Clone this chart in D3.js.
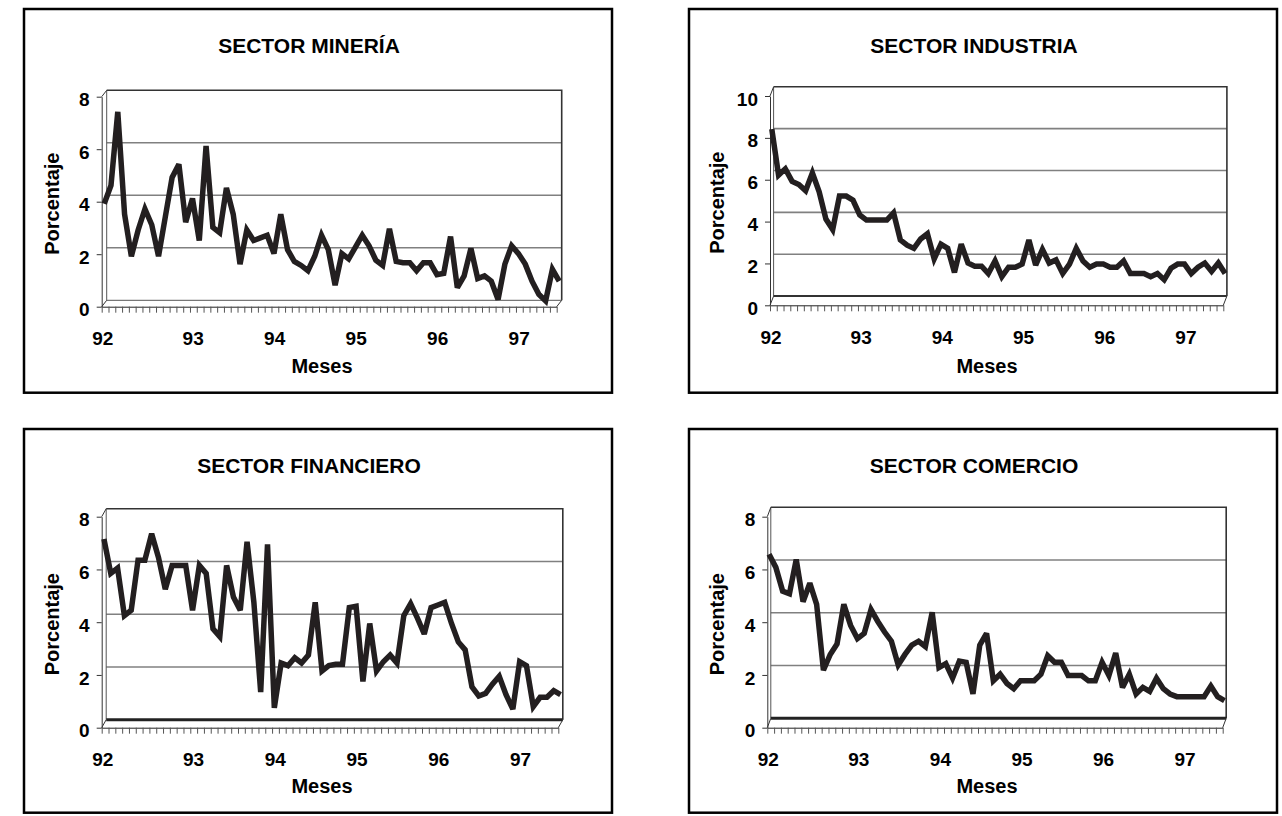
<!DOCTYPE html>
<html>
<head>
<meta charset="utf-8">
<script src="https://cdn.jsdelivr.net/npm/d3@7/dist/d3.min.js"></script>
<style>
body { margin: 0; background: #fff; }
text { font-family: "Liberation Sans", Arial, Helvetica, sans-serif; font-weight: bold; fill: #000; }
</style>
</head>
<body>
<div id="canvas"></div>
<script>
// categories: one per month, Jan 92 .. Aug 97
var years = ["92", "93", "94", "95", "96", "97"];
var monthsInYear = [12, 12, 12, 12, 12, 8];
var months = [];
years.forEach(function (y, k) {
    for (var m = 1; m <= monthsInYear[k]; m++) months.push(y + "-" + (m < 10 ? "0" + m : m));
});

var titles = ["SECTOR MINERÍA", "SECTOR INDUSTRIA", "SECTOR FINANCIERO", "SECTOR COMERCIO"];
var yTitle = "Porcentaje";
var xTitle = "Meses";

var ticks8 = [0, 2, 4, 6, 8];
var ticks10 = [0, 2, 4, 6, 8, 10];

var mineria = [3.8, 4.5, 7.3, 3.4, 1.8, 2.8, 3.6, 3.0, 1.8, 3.3, 4.8, 5.3,
    3.1, 4.0, 2.4, 6.0, 2.9, 2.7, 4.4, 3.4, 1.5, 2.8, 2.4, 2.5,
    2.6, 1.9, 3.4, 2.05, 1.6, 1.45, 1.25, 1.8, 2.6, 2.05, 0.7, 1.9,
    1.7, 2.15, 2.6, 2.2, 1.65, 1.45, 2.85, 1.6, 1.55, 1.55, 1.25, 1.55,
    1.55, 1.1, 1.15, 2.55, 0.6, 1.05, 2.1, 0.95, 1.05, 0.85, 0.15, 1.5,
    2.2, 1.9, 1.5, 0.85, 0.35, 0.1, 1.3, 0.85];

var industria = [8.2, 6.0, 6.3, 5.7, 5.55, 5.25, 6.1, 5.2, 3.9, 3.4, 5.0, 5.0,
    4.8, 4.1, 3.85, 3.85, 3.85, 3.85, 4.2, 2.9, 2.65, 2.5, 2.95, 3.2,
    2.0, 2.7, 2.5, 1.35, 2.7, 1.8, 1.65, 1.65, 1.3, 1.9, 1.15, 1.6,
    1.6, 1.75, 2.9, 1.7, 2.45, 1.8, 1.95, 1.3, 1.75, 2.5, 1.9, 1.6,
    1.75, 1.75, 1.6, 1.6, 1.9, 1.3, 1.3, 1.3, 1.15, 1.3, 1.0, 1.55,
    1.75, 1.75, 1.3, 1.6, 1.8, 1.4, 1.8, 1.3];

var financiero = [7.0, 5.7, 5.9, 4.1, 4.3, 6.2, 6.2, 7.2, 6.3, 5.1, 6.0, 6.0,
    6.0, 4.3, 6.0, 5.7, 3.6, 3.3, 6.0, 4.8, 4.3, 6.9, 4.6, 1.2,
    6.8, 0.6, 2.3, 2.2, 2.5, 2.3, 2.6, 4.6, 2.0, 2.2, 2.25, 2.25,
    4.4, 4.45, 1.6, 3.8, 2.0, 2.35, 2.6, 2.3, 4.1, 4.55, 4.0, 3.4,
    4.4, 4.5, 4.6, 3.8, 3.1, 2.8, 1.4, 1.05, 1.15, 1.5, 1.8, 1.1,
    0.55, 2.35, 2.2, 0.65, 1.0, 1.0, 1.25, 1.1];

var comercio = [6.4, 5.9, 5.0, 4.9, 6.2, 4.6, 5.3, 4.5, 2.0, 2.6, 3.0, 4.5,
    3.7, 3.2, 3.4, 4.3, 3.85, 3.45, 3.1, 2.2, 2.6, 2.95, 3.1, 2.9,
    4.2, 2.1, 2.25, 1.7, 2.35, 2.3, 1.1, 2.95, 3.4, 1.6, 1.85, 1.5,
    1.3, 1.6, 1.6, 1.6, 1.85, 2.55, 2.3, 2.3, 1.8, 1.8, 1.8, 1.6,
    1.6, 2.3, 1.8, 2.65, 1.35, 1.85, 1.1, 1.35, 1.2, 1.7, 1.3, 1.1,
    1.0, 1.0, 1.0, 1.0, 1.0, 1.4, 1.0, 0.85];

var width = 1282, height = 816;
var frameW = 588, frameH = 383.7;

// layout of each box: frame corner, front origin of plot, plot size, 3d depth offset
var panels = [
    {title: titles[0], values: mineria, ticks: ticks8, fx: 24, fy: 9,
        x0: 101.7, y0: 306.7, w: 455, h: 210, dx: 5, dy: -6.4, floorC: "#777", floorW: 1.3},
    {title: titles[1], values: industria, ticks: ticks10, fx: 689, fy: 9,
        x0: 770, y0: 305.3, w: 453.3, h: 209.3, dx: 3.6, dy: -9.2, floorC: "#333", floorW: 2},
    {title: titles[2], values: financiero, ticks: ticks8, fx: 24, fy: 429,
        x0: 101.7, y0: 727.7, w: 456.6, h: 211, dx: 4.5, dy: -8, floorC: "#222", floorW: 3},
    {title: titles[3], values: comercio, ticks: ticks8, fx: 689, fy: 429,
        x0: 767.3, y0: 727.7, w: 455.4, h: 211, dx: 3.5, dy: -9.4, floorC: "#222", floorW: 3}
];

var svg = d3.select("#canvas").append("svg")
    .attr("width", width)
    .attr("height", height);

svg.append("rect").attr("width", width).attr("height", height).attr("fill", "#fff");

function drawPanel(p) {
    var g = svg.append("g");

    g.append("rect")
        .attr("x", p.fx).attr("y", p.fy)
        .attr("width", frameW).attr("height", frameH)
        .attr("fill", "#fff")
        .attr("stroke", "#000")
        .attr("stroke-width", 2.5);

    var ymax = d3.max(p.ticks);
    var y = d3.scaleLinear().domain([0, ymax]).range([p.y0, p.y0 - p.h]);
    var x = d3.scalePoint().domain(months).range([p.x0, p.x0 + p.w]);

    var bx = p.x0 + p.dx, by = p.y0 + p.dy;

    // back wall gridlines
    g.selectAll(".grid")
        .data(p.ticks.filter(function (t) { return t > 0 && t < ymax; }))
        .enter().append("line")
        .attr("x1", bx).attr("x2", bx + p.w)
        .attr("y1", function (d) { return y(d) + p.dy; })
        .attr("y2", function (d) { return y(d) + p.dy; })
        .attr("stroke", "#808080")
        .attr("stroke-width", 1.6);

    // back wall top and right edge
    g.append("path")
        .attr("d", "M" + bx + "," + (by - p.h) + "H" + (bx + p.w) + "V" + by)
        .attr("fill", "none")
        .attr("stroke", "#333")
        .attr("stroke-width", 1.6);

    // back wall left edge
    g.append("line")
        .attr("x1", bx).attr("y1", by - p.h).attr("x2", bx).attr("y2", by)
        .attr("stroke", "#555").attr("stroke-width", 1);

    // floor back edge
    g.append("line")
        .attr("x1", bx).attr("y1", by).attr("x2", bx + p.w).attr("y2", by)
        .attr("stroke", p.floorC).attr("stroke-width", p.floorW);

    // depth edges: top-left, bottom-left, bottom-right
    [[p.x0, p.y0 - p.h], [p.x0, p.y0], [p.x0 + p.w, p.y0]].forEach(function (c) {
        g.append("line")
            .attr("x1", c[0]).attr("y1", c[1])
            .attr("x2", c[0] + p.dx).attr("y2", c[1] + p.dy)
            .attr("stroke", "#333").attr("stroke-width", 1);
    });

    // y axis (front)
    var yAxis = g.append("g")
        .attr("transform", "translate(" + p.x0 + ",0)")
        .call(d3.axisLeft(y).tickValues(p.ticks).tickSize(5).tickSizeOuter(0).tickPadding(7).tickFormat(d3.format("d")));
    yAxis.select(".domain").attr("stroke", "#333");
    yAxis.selectAll(".tick line").attr("stroke", "#333");
    yAxis.selectAll(".tick text")
        .attr("y", 3)
        .style("font-family", "'Liberation Sans', Arial, sans-serif")
        .style("font-weight", "bold")
        .style("font-size", "19px")
        .attr("fill", "#000");

    // x axis (front), one tick per month
    var xAxis = g.append("g")
        .attr("transform", "translate(0," + p.y0 + ")")
        .call(d3.axisBottom(x).tickValues(months).tickSize(6).tickSizeOuter(0).tickFormat(""));
    xAxis.select(".domain").attr("stroke", "#222");
    xAxis.selectAll(".tick line").attr("stroke", "#555");

    // year labels
    g.selectAll(".yr")
        .data(years)
        .enter().append("text")
        .attr("x", function (d, k) { return x(d + "-01") + (k === 0 ? 1 : 10); })
        .attr("y", p.y0 + 38.3)
        .attr("text-anchor", "middle")
        .style("font-size", "19px")
        .text(function (d) { return d; });

    // series ribbon
    var line = d3.line()
        .x(function (d, i) { return x(months[i]) + p.dx / 2; })
        .y(function (d) { return y(d) + p.dy / 2; });

    g.append("path")
        .datum(p.values)
        .attr("d", line)
        .attr("fill", "none")
        .attr("stroke", "#231f20")
        .attr("stroke-width", 5.5)
        .attr("stroke-linejoin", "miter")
        .attr("stroke-miterlimit", 3);

    // titles
    g.append("text")
        .attr("x", p.fx + 285)
        .attr("y", p.fy + 44)
        .attr("text-anchor", "middle")
        .style("font-size", "21px")
        .text(p.title);

    g.append("text")
        .attr("x", p.fx + 298)
        .attr("y", p.fy + 363.5)
        .attr("text-anchor", "middle")
        .style("font-size", "20px")
        .text(xTitle);

    g.append("text")
        .attr("transform", "translate(" + (p.fx + 34.5) + "," + (p.y0 - p.h / 2 + 2) + ") rotate(-90)")
        .attr("text-anchor", "middle")
        .style("font-size", "20px")
        .text(yTitle);
}

panels.forEach(drawPanel);
</script>
</body>
</html>
